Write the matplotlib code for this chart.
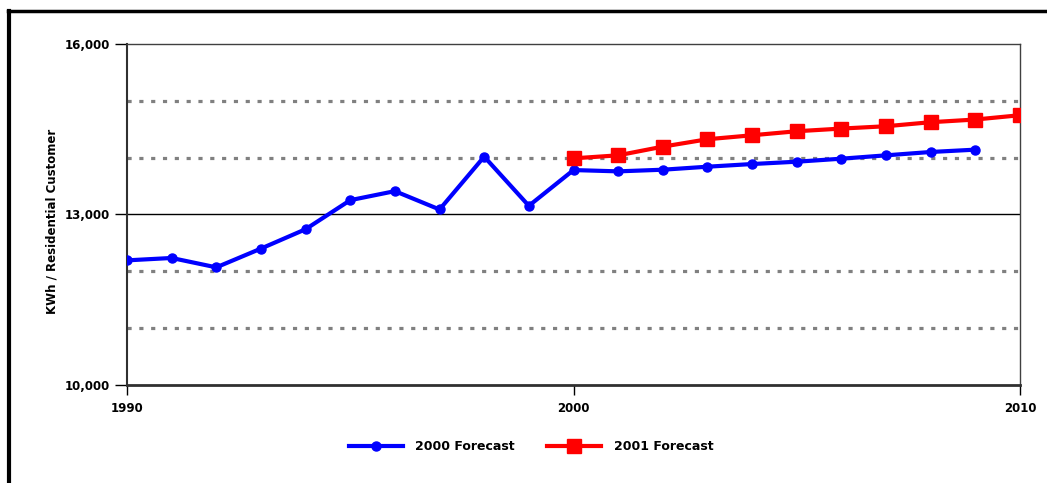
import matplotlib
matplotlib.use("Agg")
import matplotlib.pyplot as plt
from matplotlib.lines import Line2D

years_2000 = [1990, 1991, 1992, 1993, 1994, 1995, 1996, 1997, 1998, 1999,
              2000, 2001, 2002, 2003, 2004, 2005, 2006, 2007, 2008, 2009]
vals_2000 = [12193, 12235, 12070, 12400, 12741, 13252, 13411, 13088, 14018, 13153,
             13782, 13759, 13788, 13841, 13888, 13929, 13982, 14041, 14100, 14141]
years_2001 = [2000, 2001, 2002, 2003, 2004, 2005, 2006, 2007, 2008, 2009, 2010]
vals_2001 = [13988, 14041, 14194, 14324, 14394, 14465, 14512, 14553, 14624, 14671, 14747]

x_ticks = [1990, 2000, 2010]
y_ticks = [10000, 13000, 16000]
y_tick_labels = ["10,000", "13,000", "16,000"]
minor_grid = [11000, 12000, 14000, 15000]
series_labels = ["2000 Forecast", "2001 Forecast"]

plt.rcParams['font.family'] = ['DejaVu Sans']

fig = plt.figure(figsize=(10.47, 4.83), dpi=100)
ax = fig.add_axes([127/1047, 1-385/483, (1020-127)/1047, (385-44)/483])

for g in minor_grid:
    ax.axhline(g, color='#808080', lw=2.3, dashes=(1.3, 2.4), zorder=1)
ax.axhline(13000, color='black', lw=1.0, zorder=1)

ax.plot(years_2000, vals_2000, color='#0000FF', lw=3.0, marker='o', ms=6.5,
        label=series_labels[0], zorder=3)
ax.plot(years_2001, vals_2001, color='#FF0000', lw=3.0, marker='s', ms=10,
        label=series_labels[1], zorder=4)

ax.set_xlim(1990, 2010)
ax.set_ylim(10000, 16000)
ax.set_xticks(x_ticks)
ax.set_xticklabels([str(x) for x in x_ticks])
ax.set_yticks(y_ticks)
ax.set_yticklabels(y_tick_labels)
ax.tick_params(axis='x', direction='out', length=7, width=1, pad=5, labelsize=8.5)
ax.tick_params(axis='y', direction='out', length=9, width=1, pad=3, labelsize=8.5)
for lab in ax.get_xticklabels() + ax.get_yticklabels():
    lab.set_fontweight('bold')

for s in ['top', 'right']:
    ax.spines[s].set_color('#404040')
    ax.spines[s].set_linewidth(1.0)
ax.spines['left'].set_color('#303030')
ax.spines['left'].set_linewidth(1.5)
ax.spines['bottom'].set_color('#303030')
ax.spines['bottom'].set_linewidth(2.0)

ax.set_ylabel("KWh / Residential Customer", fontsize=8.5, fontweight='bold')
ax.yaxis.set_label_coords(-0.077, 0.48)

fig.legend(loc='center', bbox_to_anchor=(531/1047, 1-447/483), ncol=2, frameon=False,
           prop={'weight': 'bold', 'size': 9}, handlelength=4.3,
           columnspacing=2.6, handletextpad=1.0)

fig.add_artist(Line2D([8/1047, 1], [1-11/483, 1-11/483], color='black', lw=2.5,
                      transform=fig.transFigure))
fig.add_artist(Line2D([9/1047, 9/1047], [0, 1-11/483], color='black', lw=3.0,
                      transform=fig.transFigure))

fig.savefig("out.png", dpi=100)
